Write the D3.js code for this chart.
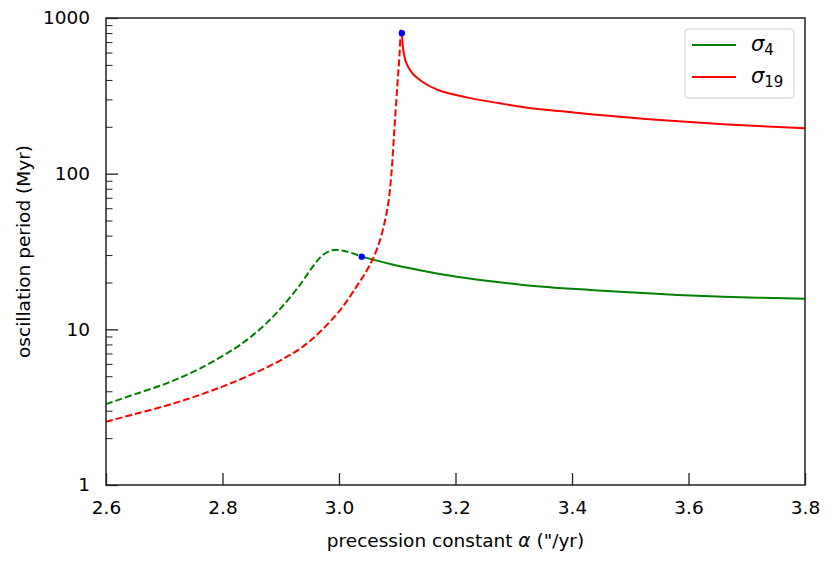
<!DOCTYPE html>
<html><head><meta charset="utf-8">
<script src="https://cdn.jsdelivr.net/npm/d3@7"></script>
<style>body{margin:0;background:#fff}svg{font-family:"DejaVu Sans",sans-serif}</style>
</head><body>
<svg id="c" width="831" height="564"></svg>
<script>
// sigma_4 (green) dashed branch then solid branch
const s4DashAlpha = [2.600, 2.647, 2.704, 2.761, 2.819, 2.847, 2.876, 2.904, 2.933, 2.956, 2.973, 2.990, 3.013, 3.039];
const s4DashPeriod = [3.31, 3.80, 4.50, 5.60, 7.45, 8.85, 11.0, 14.2, 19.3, 25.6, 30.2, 32.3, 31.6, 29.3];
const s4SolidAlpha = [3.039, 3.088, 3.139, 3.202, 3.316, 3.431, 3.545, 3.660, 3.800];
const s4SolidPeriod = [29.3, 26.3, 24.0, 21.8, 19.3, 17.9, 16.9, 16.2, 15.7];
// sigma_19 (red)
const s19DashAlpha = [2.600, 2.647, 2.704, 2.761, 2.819, 2.876, 2.904, 2.936, 2.967, 3.002, 3.030, 3.048, 3.059, 3.070, 3.079, 3.085, 3.090, 3.095, 3.100, 3.104, 3.106];
const s19DashPeriod = [2.55, 2.84, 3.24, 3.79, 4.58, 5.70, 6.45, 7.65, 9.6, 13.3, 18.8, 24.0, 28.8, 37.0, 50.0, 66.0, 100, 190, 362, 593, 879];
const s19SolidAlpha = [3.108, 3.110, 3.115, 3.125, 3.145, 3.170, 3.219, 3.276, 3.334, 3.391, 3.448, 3.545, 3.660, 3.800];
const s19SolidPeriod = [800, 640, 520, 445, 385, 345, 309, 283, 262, 250, 238, 222, 208, 196];
// transition markers
const markAlpha = [3.039, 3.108];
const markPeriod = [29.3, 800];
const xTicks = [2.6, 2.8, 3.0, 3.2, 3.4, 3.6, 3.8];
const yTicks = [1, 10, 100, 1000];

const svg = d3.select("#c");
const L = 106, R = 805, T = 18, B = 485;
const x = d3.scaleLinear().domain([2.6, 3.8]).range([L, R]);
const y = d3.scaleLog().domain([1, 1000]).range([B, T]);

const g = svg.append("g");
g.append("defs").append("clipPath").attr("id","clip").append("rect")
  .attr("x", L).attr("y", T).attr("width", R-L).attr("height", B-T);

const line = d3.line().x(d => x(d[0])).y(d => y(d[1])).curve(d3.curveCatmullRom.alpha(0.5));
const zip = (a, b) => a.map((v, i) => [v, b[i]]);
const plot = g.append("g").attr("clip-path", "url(#clip)");
function path(a, b, color, dash) {
  plot.append("path").datum(zip(a, b)).attr("d", line)
    .attr("fill", "none").attr("stroke", color).attr("stroke-width", 2)
    .attr("stroke-dasharray", dash ? "7,3" : null);
}
path(s4DashAlpha, s4DashPeriod, "green", true);
path(s4SolidAlpha, s4SolidPeriod, "green", false);
path(s19DashAlpha, s19DashPeriod, "red", true);
path(s19SolidAlpha, s19SolidPeriod, "red", false);
plot.selectAll("circle.m").data(zip(markAlpha, markPeriod)).enter().append("circle")
  .attr("cx", d => x(d[0])).attr("cy", d => y(d[1])).attr("r", 3.2).attr("fill", "blue");

const FS = 18.5;
// axes with inward ticks
const xAxis = d3.axisBottom(x).tickValues(xTicks).tickFormat(d3.format(".1f")).tickSizeInner(-12).tickSizeOuter(0).tickPadding(16);
const gx = g.append("g").attr("transform", `translate(0,${B})`).call(xAxis);
gx.select(".domain").remove();
gx.selectAll("text").attr("font-size", FS).attr("fill", "#000").attr("font-family", "DejaVu Sans");
gx.selectAll("line").attr("stroke", "#222").attr("stroke-width", 1.3);

const minor = [];
for (let e = 0; e < 3; e++) for (let m = 2; m <= 9; m++) minor.push(m * Math.pow(10, e));
const gym = g.append("g").attr("transform", `translate(${L},0)`)
  .call(d3.axisLeft(y).tickValues(minor).tickFormat("").tickSizeInner(-6.5).tickSizeOuter(0));
gym.select(".domain").remove();
gym.selectAll("line").attr("stroke", "#222").attr("stroke-width", 1);
const gy = g.append("g").attr("transform", `translate(${L},0)`)
  .call(d3.axisLeft(y).tickValues(yTicks).tickFormat(d3.format("d")).tickSizeInner(-12).tickSizeOuter(0).tickPadding(16));
gy.select(".domain").remove();
gy.selectAll("text").attr("font-size", FS).attr("fill", "#000").attr("font-family", "DejaVu Sans");
gy.selectAll("line").attr("stroke", "#222").attr("stroke-width", 1.3);

g.append("rect").attr("x", L).attr("y", T).attr("width", R-L).attr("height", B-T)
  .attr("fill", "none").attr("stroke", "#222").attr("stroke-width", 1.5);

// axis labels
const xl = g.append("text").attr("x", (L+R)/2).attr("y", 547).attr("text-anchor", "middle").attr("font-size", FS);
xl.append("tspan").text("precession constant ");
xl.append("tspan").attr("font-style", "italic").text("α");
xl.append("tspan").text(" (\"/yr)");
g.append("text").attr("transform", `translate(30,${(T+B)/2}) rotate(-90)`).attr("text-anchor", "middle")
  .attr("font-size", FS).text("oscillation period (Myr)");

// legend
const lg = g.append("g");
lg.append("rect").attr("x", 685).attr("y", 29).attr("width", 109).attr("height", 69).attr("rx", 3)
  .attr("fill", "#fff").attr("stroke", "#ccc").attr("stroke-width", 1);
const items = [["green", "4", 45], ["red", "19", 77]];
items.forEach(([c, sub, yy]) => {
  lg.append("line").attr("x1", 692).attr("x2", 736).attr("y1", yy).attr("y2", yy)
    .attr("stroke", c).attr("stroke-width", 2);
  const t = lg.append("text").attr("x", 751).attr("y", yy + 6).attr("font-size", 21);
  t.append("tspan").attr("font-style", "italic").text("σ");
  t.append("tspan").attr("font-size", 15).attr("dy", 4).text(sub);
});
</script>
</body></html>
